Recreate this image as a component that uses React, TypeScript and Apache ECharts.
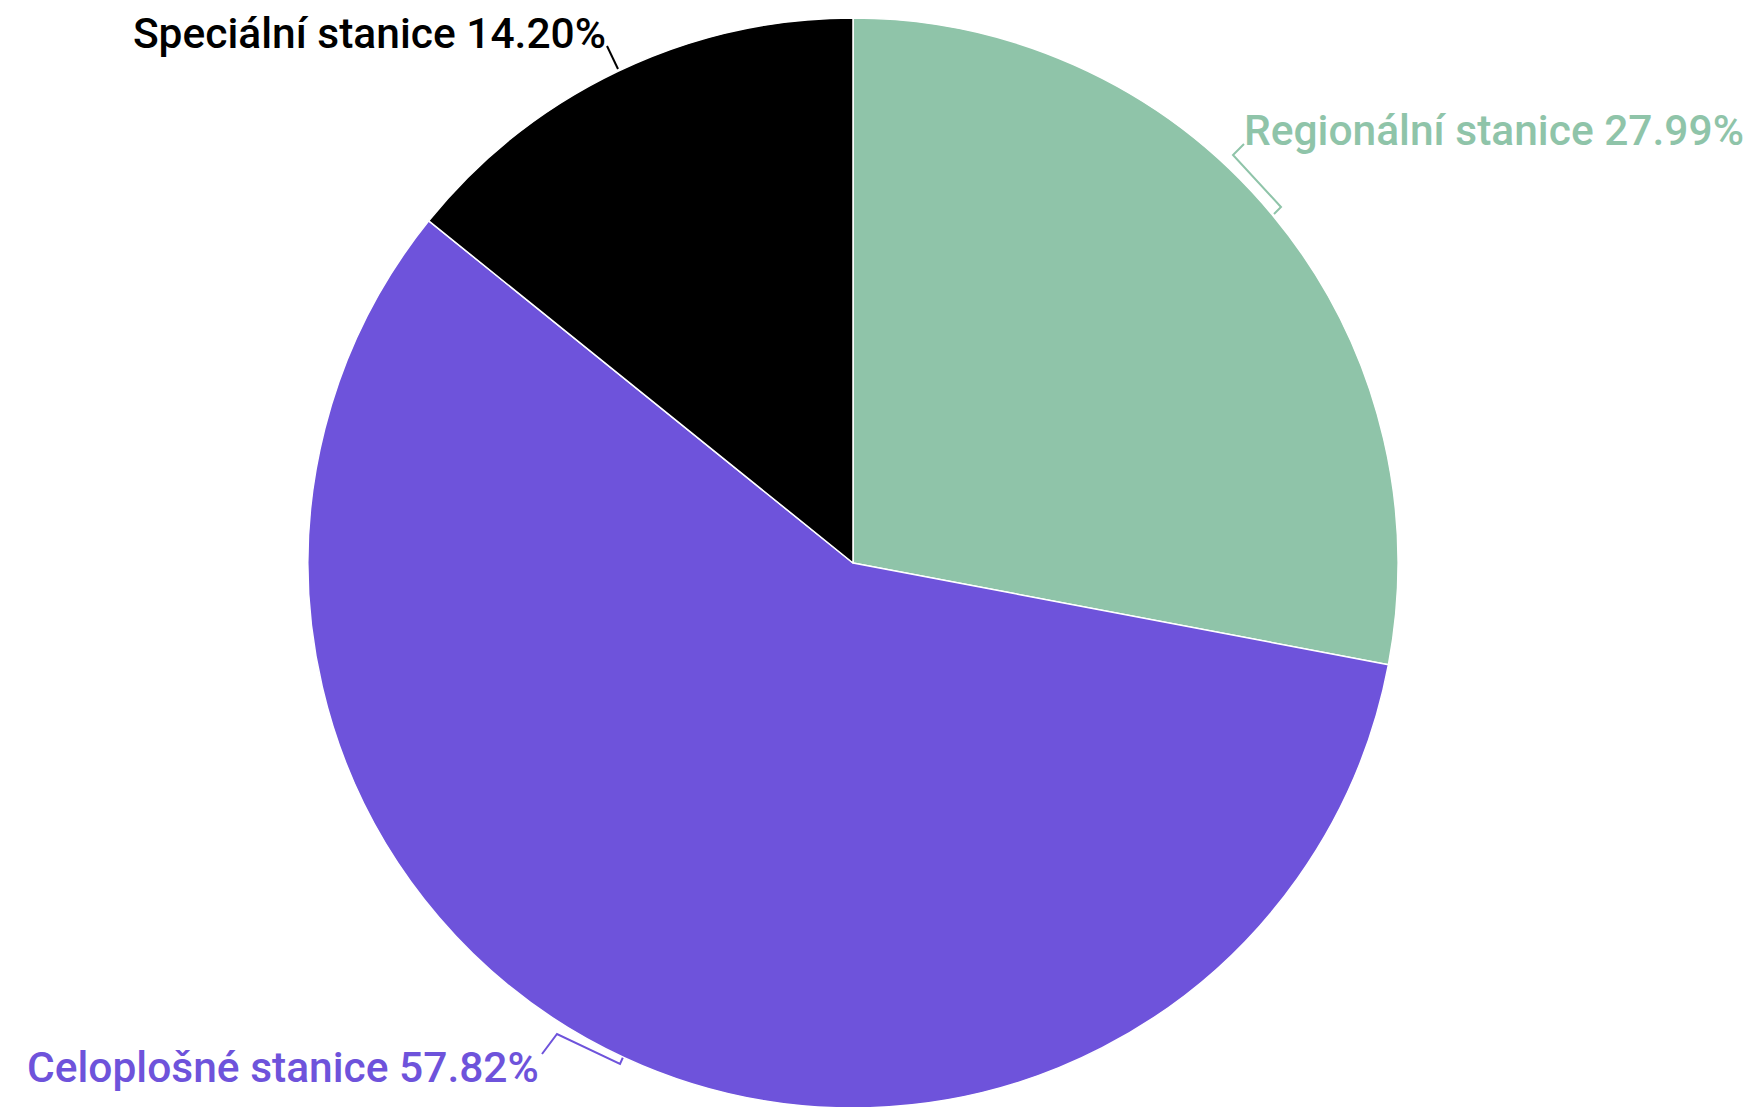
import React, { useEffect, useRef } from "react";
import * as echarts from "echarts";

const categories = ["Regionální stanice", "Celoplošné stanice", "Speciální stanice"];
const shares = [27.99, 57.82, 14.2];
const colors = ["#8fc4a9", "#6e53db", "#000000"];

export default function App() {
  const ref = useRef<HTMLDivElement>(null);
  useEffect(() => {
    document.body.style.margin = "0";
    const chart = echarts.init(ref.current!, undefined, { renderer: "svg" });
    const layouts: any[] = [
      {
        x: 1244, y: 130, align: "left", verticalAlign: "middle",
        labelLinePoints: [[1274, 214], [1281, 207], [1233, 155], [1244, 144]],
      },
      {
        x: 27, y: 1067, align: "left", verticalAlign: "middle",
        labelLinePoints: [[624, 1055], [620, 1064], [557, 1034], [542, 1054]],
      },
      {
        x: 606, y: 33, align: "right", verticalAlign: "middle",
        labelLinePoints: [[618, 69], [607, 46], [607, 46]],
      },
    ];
    chart.setOption({
      animation: false,
      series: [
        {
          type: "pie",
          center: [853, 563],
          radius: [0, 545],
          startAngle: 90,
          clockwise: true,
          data: categories.map((c, i) => ({
            name: c,
            value: shares[i],
            itemStyle: { color: colors[i] },
            label: { color: colors[i] },
            labelLine: { lineStyle: { color: colors[i] } },
          })),
          itemStyle: { borderColor: "#ffffff", borderWidth: 1.5 },
          label: {
            show: true,
            fontFamily: "Roboto",
            fontSize: 42.5,
            fontWeight: 500,
            overflow: "none",
            width: 700,
            formatter: (p: any) => `${p.name} ${p.value.toFixed(2)}%`,
          },
          labelLine: { show: true, lineStyle: { width: 2 } },
          labelLayout: (p: any) => layouts[p.dataIndex],
        },
      ],
    });
    return () => chart.dispose();
  }, []);
  return <div ref={ref} style={{ width: 1757, height: 1107 }} />;
}
